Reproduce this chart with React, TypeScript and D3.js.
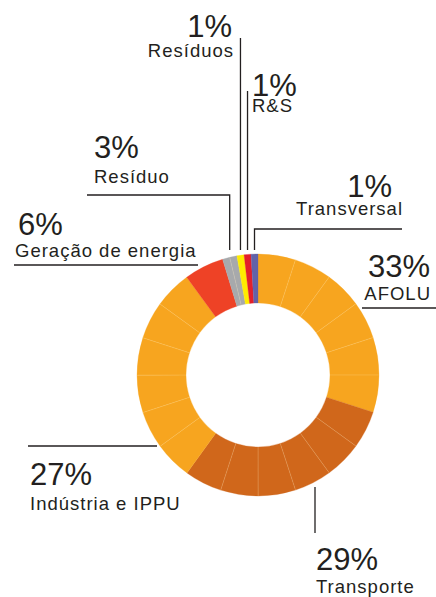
import React, { useRef, useEffect } from 'react';
import * as d3 from 'd3';

// sectors, clockwise from 12 o'clock
const categories = ['AFOLU', 'Transporte', 'Indústria e IPPU', 'Geração de energia', 'Resíduo', 'Resíduos', 'R&S', 'Transversal'];
const pctLabels = ['33%', '29%', '27%', '6%', '3%', '1%', '1%', '1%'];
// each sector is drawn as a run of thin sub-slices (share of the ring, %)
const subSlices = [
  [5, 5, 5, 5, 5, 5],
  [5, 5, 5, 5, 5, 5],
  [5, 5, 5, 5, 5, 5],
  [5.3],
  [0.97, 0.97],
  [0.95],
  [0.92],
  [0.92],
];
const colors = ['#F7A51F', '#D0671B', '#F7A51F', '#EE4226', '#A7A9AC', '#FFEC00', '#E3202A', '#6262A8'];

export default function App() {
  const svgRef = useRef<SVGSVGElement>(null);

  useEffect(() => {
    const w = 436;
    const h = 597;
    const cx = 258;
    const cy = 375;
    const outer = 121;
    const inner = 72;
    const ink = '#231f20';
    const font = '"Liberation Sans", Arial, sans-serif';

    const svg = d3.select(svgRef.current)
      .attr('width', w)
      .attr('height', h)
      .style('position', 'absolute')
      .style('left', '0px')
      .style('top', '0px')
      .style('background', '#fff');
    svg.selectAll('*').remove();

    // flatten sub-slices
    const pieces = subSlices.flatMap((arr, i) => arr.map((v, j) => ({ cat: i, j, v })));

    const pie = d3.pie<{ cat: number; j: number; v: number }>()
      .value(d => d.v)
      .sort(null)
      .startAngle(0)
      .endAngle(2 * Math.PI);

    const arc = d3.arc<d3.PieArcDatum<{ cat: number; j: number; v: number }>>()
      .innerRadius(inner)
      .outerRadius(outer);

    const arcs = pie(pieces);

    const g = svg.append('g').attr('transform', `translate(${cx},${cy})`);

    g.selectAll('path')
      .data(arcs)
      .join('path')
      .attr('d', arc)
      .attr('fill', d => colors[d.data.cat])
      .attr('stroke', d => colors[d.data.cat])
      .attr('stroke-width', 0.3);

    // faint dividers between sub-slices of one sector
    g.selectAll('line.div')
      .data(arcs.filter(d => d.data.j > 0))
      .join('line')
      .attr('class', 'div')
      .attr('x1', d => inner * Math.sin(d.startAngle))
      .attr('y1', d => -inner * Math.cos(d.startAngle))
      .attr('x2', d => outer * Math.sin(d.startAngle))
      .attr('y2', d => -outer * Math.cos(d.startAngle))
      .attr('stroke', '#ffe2a8')
      .attr('stroke-opacity', 0.45)
      .attr('stroke-width', 0.5);

    // mid angle of each whole sector
    const sectorMid = categories.map((_, i) => {
      const a = arcs.filter(d => d.data.cat === i);
      return (a[0].startAngle + a[a.length - 1].endAngle) / 2;
    });
    const topX = (i: number) => cx + outer * Math.sin(sectorMid[i]);

    const lines: [number, number][][] = [
      [[362, 308], [436, 308]], // AFOLU
      [[315, 487], [315, 533]], // Transporte
      [[28, 446], [157, 446]], // Indústria
      [[14, 265], [198, 265]], // Geração
      [[87, 195], [topX(4), 195], [topX(4), 250]], // Resíduo
      [[topX(5), 38], [topX(5), 250]], // Resíduos
      [[topX(6), 91], [topX(6), 250]], // R&S
      [[402, 229], [topX(7), 229], [topX(7), 250]], // Transversal
    ];

    svg.append('g')
      .selectAll('path')
      .data(lines)
      .join('path')
      .attr('d', d => d3.line()(d))
      .attr('fill', 'none')
      .attr('stroke', ink)
      .attr('stroke-width', 1.3);

    // label layout: [x, pct baseline, name baseline, anchor, name x]
    const labelPos: [number, number, number, string, number][] = [
      [430, 277, 300, 'end', 431],
      [316, 570, 593, 'start', 316],
      [30, 485, 510, 'start', 30],
      [18, 235, 257, 'start', 15],
      [94, 158, 183, 'start', 94],
      [232, 37, 57, 'end', 234],
      [252, 96, 112, 'start', 252],
      [392, 197, 215, 'end', 403],
    ];

    const lg = svg.append('g').attr('font-family', font).attr('fill', ink);
    categories.forEach((name, i) => {
      const [x, py, ny, anchor, nx] = labelPos[i];
      lg.append('text')
        .attr('x', x)
        .attr('y', py)
        .attr('text-anchor', anchor)
        .attr('font-size', 31)
        .text(pctLabels[i]);
      lg.append('text')
        .attr('x', nx)
        .attr('y', ny)
        .attr('text-anchor', anchor)
        .attr('font-size', 18.5)
        .attr('letter-spacing', 1)
        .text(name);
    });
  }, []);

  return (
    <div>
      <svg ref={svgRef}></svg>
    </div>
  );
}
